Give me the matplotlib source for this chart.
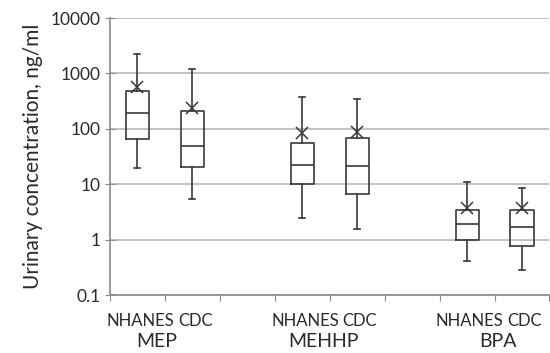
import matplotlib

matplotlib.use("Agg")
import matplotlib.pyplot as plt

plt.rcParams["font.family"] = ["Lato", "DejaVu Sans"]

# eight category slots, two of them left empty as spacers
SLOTS = ["NHANES", "CDC", "", "NHANES", "CDC", "", "NHANES", "CDC"]
BOX_SLOTS = [0, 1, 3, 4, 6, 7]
GROUPS = ["MEP", "MEHHP", "BPA"]
GROUP_POS = [0.35, 3.38, 6.56]

WHISK_LO = [20, 5.4, 2.47, 1.57, 0.41, 0.28]
Q1 = [65, 20.6, 10, 6.8, 1.0, 0.77]
MEDIAN = [190, 50, 22, 21, 1.9, 1.67]
Q3 = [485, 209, 54.5, 69, 3.5, 3.5]
WHISK_HI = [2200, 1180, 373, 348, 11.2, 8.5]
MEAN = [570, 235, 85, 88, 3.7, 3.7]

YTICKS = [0.1, 1, 10, 100, 1000, 10000]
YTICK_LABELS = ["0.1", "1", "10", "100", "1000", "10000"]

BOX_COLOR = "#3a3a3a"
GRID_COLOR = "#bdbdbd"
AXIS_COLOR = "#8a8a8a"
TEXT_COLOR = "#2a2a2a"


def main() -> None:
    fig = plt.figure(figsize=(5.5, 3.53), dpi=100)
    ax = fig.add_axes([0.2, 0.164, 0.799, 0.785])

    stats = [
        dict(whislo=lo, q1=a, med=m, q3=b, whishi=hi, fliers=[])
        for lo, a, m, b, hi in zip(WHISK_LO, Q1, MEDIAN, Q3, WHISK_HI)
    ]
    line = dict(color=BOX_COLOR, linewidth=1.2)
    ax.bxp(
        stats,
        positions=BOX_SLOTS,
        widths=0.42,
        capwidths=0.11,
        showfliers=False,
        boxprops=line,
        whiskerprops=line,
        capprops=line,
        medianprops=line,
        zorder=3,
    )
    ax.plot(BOX_SLOTS, MEAN, linestyle="none", marker="x", markersize=8,
            markeredgewidth=1.1, color=BOX_COLOR, zorder=4)

    ax.set_yscale("log")
    ax.set_ylim(0.1, 10000)
    ax.set_yticks(YTICKS)
    ax.set_yticklabels(YTICK_LABELS)
    ax.minorticks_off()
    ax.yaxis.grid(True, color=GRID_COLOR, linewidth=1.3)
    ax.set_axisbelow(True)

    ax.set_xlim(-0.5, len(SLOTS) - 0.5)
    ax.set_xticks([i - 0.5 for i in range(len(SLOTS) + 1)])
    ax.set_xticklabels([])
    for i, name in enumerate(SLOTS):
        ax.text(i + 0.05, -0.095, name, transform=ax.get_xaxis_transform(),
                ha="center", va="center", fontsize=12, color=TEXT_COLOR)
    for x, name in zip(GROUP_POS, GROUPS):
        ax.text(x, -0.167, name, transform=ax.get_xaxis_transform(),
                ha="center", va="center", fontsize=14, color=TEXT_COLOR)

    for side in ("top", "right"):
        ax.spines[side].set_visible(False)
    for side in ("left", "bottom"):
        ax.spines[side].set_color(AXIS_COLOR)
        ax.spines[side].set_linewidth(1.2)
    ax.tick_params(axis="y", direction="inout", length=7, color=AXIS_COLOR,
                   labelsize=12.5, labelcolor=TEXT_COLOR, pad=3)
    ax.tick_params(axis="x", direction="out", length=4, color=AXIS_COLOR)

    ax.set_ylabel("Urinary concentration, ng/ml", fontsize=15, color=TEXT_COLOR,
                  labelpad=6)

    fig.savefig("out.png", dpi=100)


if __name__ == "__main__":
    main()
